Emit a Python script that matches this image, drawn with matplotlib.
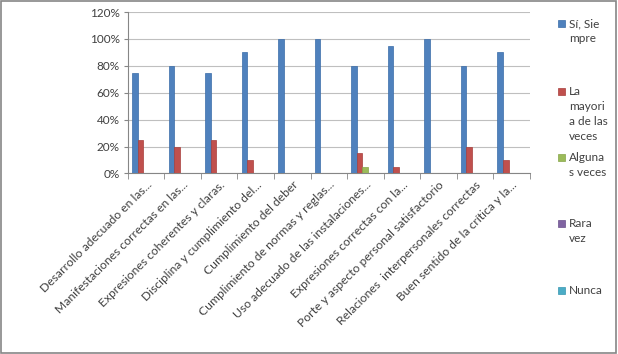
import matplotlib
matplotlib.use("Agg")
import matplotlib.pyplot as plt
import numpy as np
from matplotlib.patches import Rectangle

plt.rcParams["font.family"] = ["Lato", "DejaVu Sans"]

categories = [
    "Desarrollo adecuado en las...",
    "Manifestaciones correctas en las...",
    "Expresiones coherentes y claras.",
    "Disciplina y cumplimiento del...",
    "Cumplimiento del deber",
    "Cumplimiento de normas y reglas...",
    "Uso adecuado de las instalaciones...",
    "Expresiones correctas con la...",
    "Porte y aspecto personal satisfactorio",
    "Relaciones  interpersonales correctas",
    "Buen sentido de la crítica y la...",
]
si_siempre = [75, 80, 75, 90, 100, 100, 80, 95, 100, 80, 90]
mayoria = [25, 20, 25, 10, 0, 0, 15, 5, 0, 20, 10]
algunas = [0, 0, 0, 0, 0, 0, 5, 0, 0, 0, 0]
rara_vez = [0, 0, 0, 0, 0, 0, 0, 0, 0, 0, 0]
nunca = [0, 0, 0, 0, 0, 0, 0, 0, 0, 0, 0]

series = [si_siempre, mayoria, algunas, rara_vez, nunca]
legend_labels = ["Sí, Sie\nmpre", "La\nmayori\na de las\nveces", "Alguna\ns veces", "Rara\nvez", "Nunca"]
colors = ["#4F81BD", "#C0504D", "#9BBB59", "#8064A2", "#4BACC6"]
edges = ["#3A6CA8", "#A83E3B", "#86A448", "#6A508C", "#3696B0"]

fig = plt.figure(figsize=(6.18, 3.54), dpi=100)
ax = fig.add_axes([0.207, 0.510, 0.650, 0.456])

x = np.arange(len(categories))
width = 1 / 6.5
for i, vals in enumerate(series):
    ax.bar(x - 2 * width + i * width, vals, width, color=colors[i],
           edgecolor=edges[i], linewidth=0.5, zorder=3)

ax.set_xlim(-0.5, len(categories) - 0.5)
ax.set_ylim(0, 120)
ax.set_yticks(range(0, 121, 20))
ax.set_yticklabels([f"{v}%" for v in range(0, 121, 20)], fontsize=8.5, color="#404040")
ax.yaxis.grid(True, color="#BFBFBF", linewidth=0.8, zorder=0)
ax.tick_params(axis="y", length=3, color="#868686", pad=3)

ax.set_xticks(x)
ax.set_xticklabels(categories, rotation=45, ha="right", va="top", rotation_mode="anchor",
                   fontsize=8.7, color="#404040")
ax.set_xticks(np.arange(-0.5, len(categories), 1), minor=True)
ax.tick_params(axis="x", which="major", length=0, pad=4)
ax.tick_params(axis="x", which="minor", length=4, color="#868686")

for side in ["top", "right"]:
    ax.spines[side].set_visible(False)
for side in ["left", "bottom"]:
    ax.spines[side].set_color("#868686")

# legend on the right, one entry per series
legend_y = [23, 91, 157, 223, 290]
for label, color, edge, y in zip(legend_labels, colors, edges, legend_y):
    fy = 1 - y / 354
    fig.patches.append(Rectangle((558 / 618, fy - 4 / 354), 7 / 618, 7 / 354,
                                 transform=fig.transFigure, facecolor=color,
                                 edgecolor=edge, linewidth=0.5))
    fig.text(569 / 618, fy + 5 / 354, label, fontsize=8.5, color="#404040",
             va="top", ha="left", linespacing=1.45)

# outer border
fig.patches.append(Rectangle((0.002, 0.003), 0.995, 0.993, transform=fig.transFigure,
                             facecolor="none", edgecolor="#868686", linewidth=1.2))

fig.savefig("out.png", dpi=100)
